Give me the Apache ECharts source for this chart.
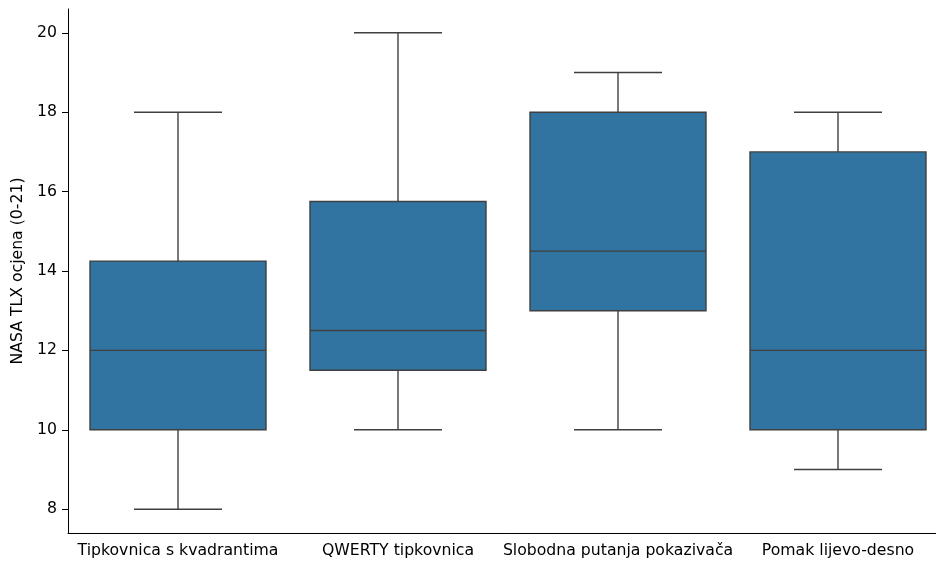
<!DOCTYPE html>
<html>
<head>
<meta charset="utf-8">
<script src="https://cdn.jsdelivr.net/npm/echarts@6/dist/echarts.min.js"></script>
<style>html,body{margin:0;padding:0;background:#fff;overflow:hidden;width:936px;height:562px}#c{width:948px;height:562px}</style>
</head>
<body>
<div id="c"></div>
<script>
const categories = ['Tipkovnica s kvadrantima', 'QWERTY tipkovnica', 'Slobodna putanja pokazivača', 'Pomak lijevo-desno'];
const whiskerLow = [8, 10, 10, 9];
const q1 = [10, 11.5, 13, 10];
const median = [12, 12.5, 14.5, 12];
const q3 = [14.25, 15.75, 18, 17];
const whiskerHigh = [18, 20, 19, 18];
const yTicks = [8, 10, 12, 14, 16, 18, 20];
const yLabel = 'NASA TLX ocjena (0-21)';

const data = categories.map((c, i) => [i, whiskerLow[i], q1[i], median[i], q3[i], whiskerHigh[i]]);
const FONT = 'DejaVu Sans';
const FS = 15.7;
const LINE = '#3f3f3f';

const chart = echarts.init(document.getElementById('c'), null, {renderer: 'canvas'});
chart.setOption({
  animation: false,
  backgroundColor: '#ffffff',
  grid: {left: 68, right: 0, top: 9, bottom: 29, containLabel: false},
  xAxis: {
    type: 'category',
    data: categories,
    boundaryGap: true,
    axisLine: {lineStyle: {color: '#000', width: 1}},
    axisTick: {alignWithLabel: true, length: 6, lineStyle: {color: '#000'}},
    axisLabel: {color: '#000', fontFamily: FONT, fontSize: FS, margin: 10, interval: 0},
    splitLine: {show: false}
  },
  yAxis: {
    type: 'value',
    min: 7.4,
    max: 20.6,
    name: yLabel,
    nameLocation: 'middle',
    nameGap: 35,
    nameTextStyle: {color: '#000', fontFamily: FONT, fontSize: FS},
    axisLine: {show: true, lineStyle: {color: '#000', width: 1}},
    axisTick: {show: true, length: 6, lineStyle: {color: '#000'}, customValues: yTicks},
    axisLabel: {color: '#000', fontFamily: FONT, fontSize: FS, margin: 11, customValues: yTicks},
    splitLine: {show: false}
  },
  series: [{
    type: 'custom',
    data: data,
    encode: {x: 0, y: [1, 2, 3, 4, 5]},
    renderItem: function (params, api) {
      const xi = api.value(0);
      const band = api.size([1, 0])[0];
      const bw = band * 0.8;
      const cw = bw * 0.5;
      const pLow = api.coord([xi, api.value(1)]);
      const pQ1 = api.coord([xi, api.value(2)]);
      const pMed = api.coord([xi, api.value(3)]);
      const pQ3 = api.coord([xi, api.value(4)]);
      const pHigh = api.coord([xi, api.value(5)]);
      const cx = pQ1[0];
      const ls = {stroke: LINE, lineWidth: 1.4, fill: null};
      return {
        type: 'group',
        children: [
          {type: 'line', shape: {x1: cx, y1: pQ1[1], x2: cx, y2: pLow[1]}, style: ls},
          {type: 'line', shape: {x1: cx, y1: pQ3[1], x2: cx, y2: pHigh[1]}, style: ls},
          {type: 'line', shape: {x1: cx - cw / 2, y1: pLow[1], x2: cx + cw / 2, y2: pLow[1]}, style: ls},
          {type: 'line', shape: {x1: cx - cw / 2, y1: pHigh[1], x2: cx + cw / 2, y2: pHigh[1]}, style: ls},
          {type: 'rect', shape: {x: cx - bw / 2, y: pQ3[1], width: bw, height: pQ1[1] - pQ3[1]},
            style: {fill: '#3274a1', stroke: LINE, lineWidth: 1.4}},
          {type: 'line', shape: {x1: cx - bw / 2, y1: pMed[1], x2: cx + bw / 2, y2: pMed[1]}, style: ls}
        ]
      };
    }
  }]
});
</script>
</body>
</html>
